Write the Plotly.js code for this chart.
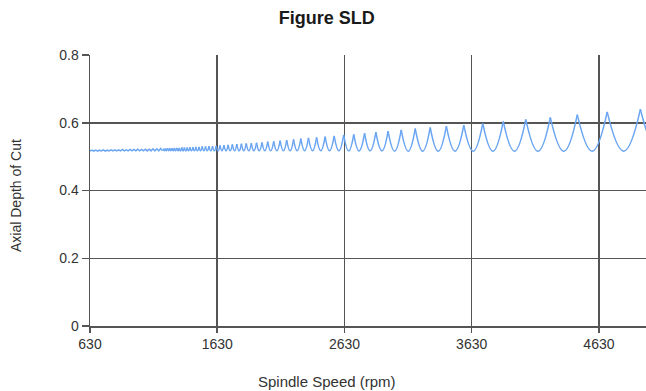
<!DOCTYPE html>
<html>
<head>
<meta charset="utf-8">
<script src="https://cdn.plot.ly/plotly-3.0.1.min.js"></script>
<style>
html,body{margin:0;padding:0;background:#fff;overflow:hidden;}
#chart{width:646px;height:391px;}
</style>
</head>
<body>
<div id="chart"></div>
<script>
// Axis ticks
const xTicks = [630, 1630, 2630, 3630, 4630];
const yTicks = [0, 0.2, 0.4, 0.6, 0.8];
const yTickText = ['0', '0.2', '0.4', '0.6', '0.8'];

// Low-speed region: lobes too narrow to separate, read as a fine ripple
const bandRpm = [630,645,660,675,690,705,720,735,750,765,780,795,810,825,840,855,870,885,900,915,930,945,960,975,990,1005,1020,1035,1050,1065,1080,1095,1110,1125,1140,1155,1170,1185,1200];
const bandDepth = [0.516,0.519,0.516,0.519,0.516,0.519,0.517,0.520,0.516,0.519,0.517,0.520,0.517,0.520,0.517,0.520,0.517,0.521,0.517,0.520,0.517,0.521,0.517,0.521,0.517,0.522,0.517,0.521,0.517,0.522,0.517,0.522,0.517,0.523,0.517,0.523,0.517,0.524,0.517];

// Lobe cusps (rpm, axial depth)
const peakRpm = [1205,1222,1239,1256,1274,1293,1312,1331,1352,1372,1394,1416,1439,1462,1487,1512,1538,1565,1593,1622,1652,1683,1715,1749,1784,1820,1858,1898,1939,1982,2027,2074,2124,2176,2230,2287,2347,2411,2478,2549,2624,2703,2788,2877,2973,3076,3186,3304,3431,3568,3717,3878,4055,4248,4460,4695,4956,5247];
const peakDepth = [0.524,0.524,0.525,0.525,0.525,0.526,0.526,0.526,0.527,0.527,0.527,0.528,0.528,0.529,0.529,0.530,0.530,0.531,0.531,0.532,0.533,0.534,0.535,0.536,0.537,0.538,0.539,0.540,0.541,0.542,0.544,0.545,0.547,0.549,0.551,0.553,0.555,0.557,0.559,0.561,0.564,0.566,0.569,0.572,0.575,0.579,0.583,0.586,0.590,0.593,0.598,0.604,0.610,0.616,0.624,0.632,0.640,0.648];

// Lobe minima (rpm, axial depth)
const valleyRpm = [1214,1230,1248,1265,1284,1302,1322,1341,1362,1383,1405,1427,1450,1474,1499,1525,1551,1579,1607,1637,1667,1699,1732,1766,1802,1839,1878,1918,1960,2004,2050,2099,2150,2203,2258,2317,2379,2444,2513,2586,2663,2745,2832,2925,3024,3131,3245,3367,3499,3642,3797,3966,4151,4354,4577,4825,5101];
const valleyDepth = [0.517,0.517,0.517,0.517,0.517,0.517,0.517,0.517,0.517,0.517,0.517,0.517,0.517,0.517,0.517,0.517,0.517,0.517,0.517,0.517,0.517,0.517,0.517,0.517,0.517,0.517,0.517,0.517,0.517,0.517,0.517,0.517,0.517,0.517,0.517,0.517,0.517,0.517,0.517,0.517,0.517,0.517,0.517,0.517,0.516,0.516,0.516,0.516,0.516,0.516,0.516,0.516,0.516,0.516,0.516,0.516,0.516];

const lineColor = '#6aa5f2';
const traces = [{
  x: bandRpm, y: bandDepth, type: 'scatter', mode: 'lines',
  line: {color: lineColor, width: 1.5}, hoverinfo: 'skip'
}];
for (let i = 0; i < valleyRpm.length; i++) {
  traces.push({
    x: [peakRpm[i], valleyRpm[i], peakRpm[i + 1]],
    y: [peakDepth[i], valleyDepth[i], peakDepth[i + 1]],
    type: 'scatter', mode: 'lines',
    line: {color: lineColor, width: 1.5, shape: 'spline', smoothing: 1.3},
    hoverinfo: 'skip'
  });
}

const gridColor = '#555555';
const layout = {
  width: 646, height: 391,
  margin: {l: 90, r: 0, t: 55, b: 65},
  paper_bgcolor: '#ffffff', plot_bgcolor: '#ffffff',
  showlegend: false, hovermode: false,
  font: {family: 'Liberation Sans, Arial, sans-serif', color: '#333333', size: 14},
  title: {
    text: '<b>Figure SLD</b>',
    font: {family: 'Liberation Sans, Arial, sans-serif', size: 18, color: '#1a1a1a'},
    x: 0.506, xanchor: 'center', xref: 'container',
    y: 0.954, yanchor: 'middle', yref: 'container'
  },
  xaxis: {
    range: [630, 5000], tickmode: 'array', tickvals: xTicks,
    ticks: 'outside', ticklen: 5, tickwidth: 1.5, tickcolor: gridColor,
    showgrid: true, gridcolor: gridColor, gridwidth: 1.5,
    showline: true, linecolor: gridColor, linewidth: 1.5,
    zeroline: false, tickfont: {size: 14, color: '#333333'}
  },
  yaxis: {
    range: [0, 0.8], tickmode: 'array', tickvals: yTicks, ticktext: yTickText,
    ticks: 'outside', ticklen: 7, tickwidth: 1.5, tickcolor: gridColor,
    showgrid: true, gridcolor: gridColor, gridwidth: 1.5,
    showline: true, linecolor: gridColor, linewidth: 1.5,
    zeroline: false, tickfont: {size: 14, color: '#333333'}
  },
  annotations: [
    {text: 'Spindle Speed (rpm)', xref: 'paper', yref: 'paper',
     x: (327 - 90) / 556, y: -(381 - 326) / 271, xanchor: 'center', yanchor: 'middle',
     showarrow: false, font: {size: 15, color: '#333333'}},
    {text: 'Axial Depth of Cut', xref: 'paper', yref: 'paper', textangle: -90,
     x: (16 - 90) / 556, y: (326 - 196) / 271, xanchor: 'center', yanchor: 'middle',
     showarrow: false, font: {size: 14, color: '#333333'}}
  ]
};

Plotly.newPlot('chart', traces, layout, {displayModeBar: false, staticPlot: true});
</script>
</body>
</html>
